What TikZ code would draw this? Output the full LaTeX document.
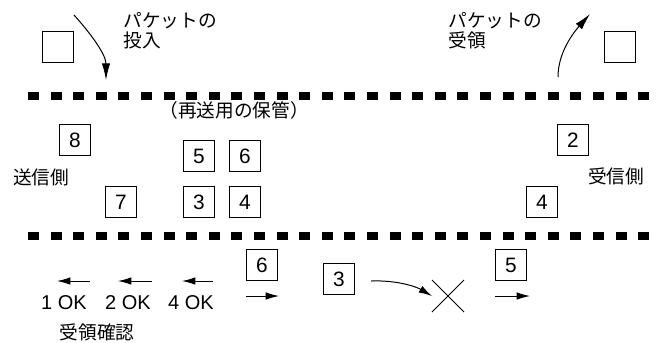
\documentclass[tikz,border=0pt]{standalone}
\usepackage{fontspec}
\setmainfont{Liberation Sans}
\newfontfamily\jpfont{Noto Sans CJK JP}
\usetikzlibrary{arrows.meta}
\usetikzlibrary{shapes.misc}
\tikzset{
  pkt/.style={draw, line width=.6pt, minimum size=18.6pt, inner sep=0pt, font=\fontsize{12.5}{14}\selectfont},
  wire/.style={line width=4.8pt, dash pattern=on 6.6pt off 6.96pt},
  lbl/.style={inner sep=0pt, font=\jpfont\fontsize{11.2}{12}\selectfont},
  oklbl/.style={inner sep=0pt, font=\fontsize{12}{14}\selectfont},
  flow/.style={-{Latex[length=10pt,width=5pt]}, line width=.6pt},
  ack/.style={-{Latex[length=8pt,width=4.5pt]}, line width=.6pt},
}

\begin{document}
\begin{tikzpicture}[x=.6pt, y=-.6pt]
\useasboundingbox (0,0) rectangle (657,342);
% the two channel lines
\draw[wire] (28,96) -- (650,96);
\draw[wire] (28,236) -- (650,236);
% top: in and out
\node[pkt] (newPkt) at (58,47) {};
\node[pkt] (donePkt) at (620,47) {};
\coordinate (inS) at (74,15);
\coordinate (inE) at (106,80);
\draw[flow] (inS) .. controls (92,35) and (106,55) .. (inE);
\coordinate (outS) at (558,77);
\coordinate (outE) at (590,14);
\draw[flow] (outS) .. controls (558,52) and (574,32) .. (outE);
\node[lbl, anchor=west, align=left] (inLbl) at (123,31) {パケットの\\投入};
\node[lbl, anchor=west, align=left] (outLbl) at (448,31) {パケットの\\受領};
% between the lines
\node[lbl] (keepLbl) at (234,110) {（再送用の保管）};
\node[lbl] (sndSide) at (41,177) {送信側};
\node[lbl] (rcvSide) at (616,176) {受信側};
%     sender
\node[pkt] (s8) at (75,140) {8};
\node[pkt] (s7) at (121,202) {7};
\node[pkt] (s5) at (199,156) {5};
\node[pkt] (s6) at (245,156) {6};
\node[pkt] (s3) at (199,202) {3};
\node[pkt] (s4) at (245,202) {4};
%     receiver
\node[pkt] (r2) at (573,140) {2};
\node[pkt] (r4) at (542,202) {4};
% below: acks and packets on the way
\node[oklbl] (ok1) at (64,303) {1 OK};
\node[oklbl] (ok2) at (128,303) {2 OK};
\node[oklbl] (ok4) at (191,303) {4 OK};
\node[lbl] (ackLbl) at (97,332) {受領確認};
\coordinate (a1s) at (90,281);
\coordinate (a1e) at (57,281);
\draw[ack] (a1s) -- (a1e);
\coordinate (a2s) at (152,281);
\coordinate (a2e) at (118,281);
\draw[ack] (a2s) -- (a2e);
\coordinate (a4s) at (213,281);
\coordinate (a4e) at (182,281);
\draw[ack] (a4s) -- (a4e);
\node[pkt] (m6) at (262,265) {6};
\coordinate (m6s) at (246,296);
\coordinate (m6e) at (279,296);
\draw[ack] (m6s) -- (m6e);
\node[pkt] (m3) at (339,279) {3};
\node[cross out, draw, line width=.6pt, minimum size=18.6pt, inner sep=0pt] (lost) at (448,296) {};
\coordinate (m3s) at (371,281);
\draw[ack] (m3s) .. controls (395,280) and (415,286) .. (lost.west);
\node[pkt] (m5) at (511,265) {5};
\coordinate (m5s) at (495,296);
\coordinate (m5e) at (530,296);
\draw[ack] (m5s) -- (m5e);
\end{tikzpicture}
\end{document}
